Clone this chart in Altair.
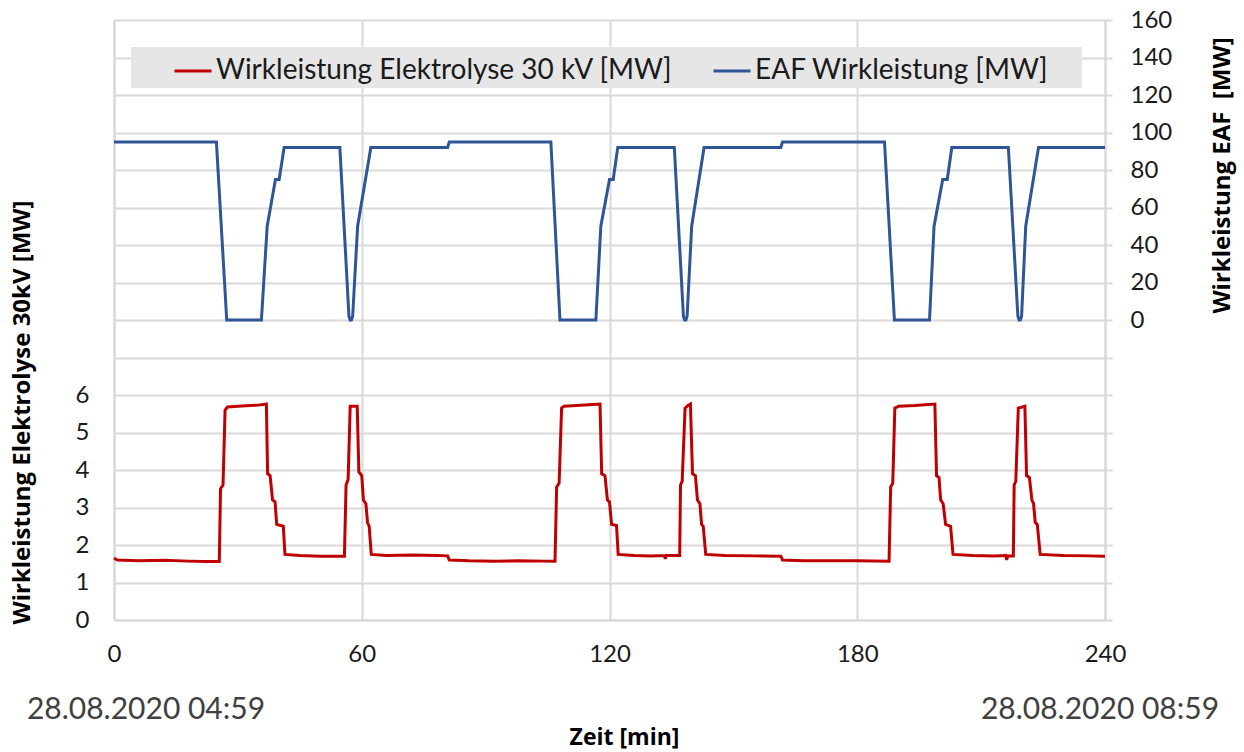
import altair as alt
import pandas as pd

# ---------------- data ----------------
time_eaf = [0, 24.8, 27.3, 35.7, 37.1, 39.1, 40.0, 41.2, 54.7, 56.9, 57.2, 57.5, 57.8, 59.0, 62.2,
            80.8, 81.2, 105.8, 108.0, 116.7, 117.9, 120.0, 120.9, 122.0, 135.7, 137.9, 138.2,
            138.5, 138.8, 139.9, 142.9, 161.5, 161.9, 186.6, 189.0, 197.5, 198.6, 200.7, 201.8,
            202.9, 216.6, 218.9, 219.2, 219.5, 219.8, 220.8, 223.9, 240]
eaf_mw = [95, 95, 0, 0, 50, 75, 75, 92, 92, 2, 0, 0, 2, 50, 92,
          92, 95, 95, 0, 0, 50, 75, 75, 92, 92, 2, 0,
          0, 2, 50, 92, 92, 95, 95, 0, 0, 50, 75, 75,
          92, 92, 2, 0, 0, 2, 50, 92, 92]

time_ely = [0, 0.8, 6, 12, 18, 22, 25.5, 25.8, 26.4, 26.9, 27.5, 30, 33, 35, 36.9, 37.2, 37.8,
            38.4, 39.0, 39.4, 41.0, 41.4, 45, 50, 55.8, 56.2, 56.7, 57.2, 58.9, 59.3, 60.0,
            60.4, 61.0, 61.4, 61.8, 62.3, 66, 72, 78, 80.8, 81.2, 86, 92, 98, 104, 106.8,
            107.2, 107.8, 108.4, 109, 112, 115, 117.7, 118.1, 118.9, 119.5, 120, 120.5, 121.7,
            122.1, 126, 130, 133.3, 133.5, 133.7, 137.0, 137.2, 137.6, 138.3, 139, 139.6, 140.1,
            140.8, 141.3, 141.9, 142.3, 142.7, 143.3, 148, 155, 161.5, 161.9, 167, 174, 180,
            187.7, 188.1, 188.6, 189.1, 190, 194, 198.8, 199.2, 199.8, 200.2, 200.8, 201.4,
            202.6, 203.2, 208, 213, 216.0, 216.2, 216.4, 217.8, 218.0, 218.4, 219.0, 220.6,
            221.0, 221.7, 222.3, 222.7, 223.1, 223.6, 224.3, 230, 236, 240]
ely_mw = [1.65, 1.60, 1.58, 1.59, 1.57, 1.56, 1.56, 3.5, 3.6, 5.6, 5.68, 5.70, 5.72, 5.73, 5.76, 3.9, 3.85,
          3.2, 3.15, 2.55, 2.5, 1.75, 1.72, 1.70, 1.70, 3.6, 3.75, 5.7, 5.7, 3.95, 3.85,
          3.2, 3.1, 2.6, 2.5, 1.75, 1.72, 1.73, 1.72, 1.71, 1.6, 1.58, 1.57, 1.58, 1.57, 1.57,
          3.55, 3.65, 5.65, 5.7, 5.72, 5.74, 5.76, 3.9, 3.85, 3.2, 3.15, 2.55, 2.52,
          1.75, 1.72, 1.71, 1.72, 1.63, 1.72, 1.72, 3.6, 3.7, 5.65, 5.72, 5.76, 3.9,
          3.85, 3.2, 3.1, 2.55, 2.5, 1.75, 1.72, 1.71, 1.70, 1.6, 1.58, 1.58, 1.58,
          1.57, 3.55, 3.65, 5.65, 5.7, 5.72, 5.76, 3.85, 3.8, 3.2, 3.1, 2.55,
          2.5, 1.75, 1.72, 1.71, 1.72, 1.6, 1.71, 1.71, 3.6, 3.7, 5.65, 5.7,
          3.85, 3.8, 3.2, 3.1, 2.6, 2.55, 1.75, 1.72, 1.71, 1.7]

x_ticks = [0, 60, 120, 180, 240]
left_ticks = list(range(0, 17))
right_ticks = list(range(-160, 161, 20))

series_names = ["Wirkleistung Elektrolyse 30 kV [MW]", "EAF Wirkleistung [MW]"]
series_colors = ["#C00000", "#2F5597"]

date_labels = ["28.08.2020 04:59", "28.08.2020 08:59"]
date_times = [0, 240]

# ---------------- styling ----------------
FONT = "Lato"
TFONT = "Open Sans"
GRID = "#d9d9d9"

df_ely = pd.DataFrame({"t": time_ely, "v": ely_mw, "series": series_names[0]})
df_eaf = pd.DataFrame({"t": time_eaf, "v": eaf_mw, "series": series_names[1]})

x_enc = alt.X(
    "t:Q",
    scale=alt.Scale(domain=[0, 240], nice=False, zero=False),
    axis=alt.Axis(
        values=x_ticks, title="Zeit [min]", grid=True, gridColor=GRID, gridWidth=2,
        domainColor=GRID, domainWidth=2, ticks=False, labelPadding=22, labelFlush=False,
        labelFontSize=24, labelFont=FONT, labelColor="#1a1a1a",
        titleFont=TFONT, titleFontSize=23, titleFontWeight="bold", titleColor="#000000",
        titleX=510, titleY=117, titleBaseline="middle", titleAlign="center",
    ),
)

color_enc = alt.Color(
    "series:N",
    scale=alt.Scale(domain=series_names, range=series_colors),
    legend=alt.Legend(
        orient="none", legendX=59, legendY=31, direction="horizontal", title=None,
        symbolType="stroke", symbolSize=1369, symbolStrokeWidth=3,
        labelFontSize=28, labelFont=FONT, labelColor="#1a1a1a",
        columnPadding=34, labelOffset=3, padding=0, labelLimit=0,
    ),
)

legend_box = alt.Chart(pd.DataFrame({"a": [0]})).mark_rect(color="#e6e6e6").encode(
    x=alt.value(17), x2=alt.value(968), y=alt.value(27), y2=alt.value(68)
)

ely_line = alt.Chart(df_ely).mark_line(strokeWidth=3).encode(
    x=x_enc,
    y=alt.Y(
        "v:Q",
        scale=alt.Scale(domain=[0, 16], nice=False, zero=False),
        axis=alt.Axis(
            values=left_ticks, labelExpr="datum.value <= 6 ? datum.label : ''",
            grid=True, gridColor=GRID, gridWidth=2, domainColor=GRID, domainWidth=2,
            ticks=False, labelPadding=25, labelFontSize=24, labelFont=FONT,
            labelColor="#1a1a1a",
            title="Wirkleistung Elektrolyse 30kV [MW]", titleFont=TFONT, titleFontSize=24,
            titleFontWeight="bold", titleColor="#000000", titleAngle=270,
            titleX=-92, titleY=392, titleBaseline="middle", titleAlign="center",
        ),
    ),
    color=color_enc,
)

eaf_line = alt.Chart(df_eaf).mark_line(strokeWidth=3).encode(
    x=x_enc,
    y=alt.Y(
        "v:Q",
        scale=alt.Scale(domain=[-160, 160], nice=False, zero=False),
        axis=alt.Axis(
            orient="right", values=right_ticks,
            labelExpr="datum.value >= 0 ? datum.label : ''",
            grid=False, ticks=True, tickSize=7, tickColor=GRID, tickWidth=2,
            domainColor=GRID, domainWidth=2, labelPadding=18, labelFontSize=24,
            labelFont=FONT, labelColor="#1a1a1a",
            title="Wirkleistung EAF\u00a0 [MW]", titleFont=TFONT, titleFontSize=24,
            titleFontWeight="bold", titleColor="#000000", titleAngle=270,
            titleX=117, titleY=155, titleBaseline="middle", titleAlign="center",
        ),
    ),
    color=color_enc,
)

date_left = alt.Chart(pd.DataFrame({"t": [date_times[0]], "label": [date_labels[0]]})).mark_text(
    align="center", baseline="middle", dx=32, fontSize=30, font=FONT, color="#404040"
).encode(x=x_enc, y=alt.value(690), text="label:N")

date_right = alt.Chart(pd.DataFrame({"t": [date_times[1]], "label": [date_labels[1]]})).mark_text(
    align="center", baseline="middle", dx=-5, fontSize=30, font=FONT, color="#404040"
).encode(x=x_enc, y=alt.value(690), text="label:N")

chart = (
    alt.layer(legend_box, ely_line, eaf_line, date_left, date_right)
    .resolve_scale(y="independent")
    .properties(
        width=991, height=600,
        autosize=alt.AutoSizeParams(type="none"),
        padding={"left": 114, "top": 20, "right": 139, "bottom": 132},
    )
    .configure_view(strokeWidth=0)
    .configure(background="white")
)

chart.save("out.html", embed_options={"renderer": "svg", "actions": False})
